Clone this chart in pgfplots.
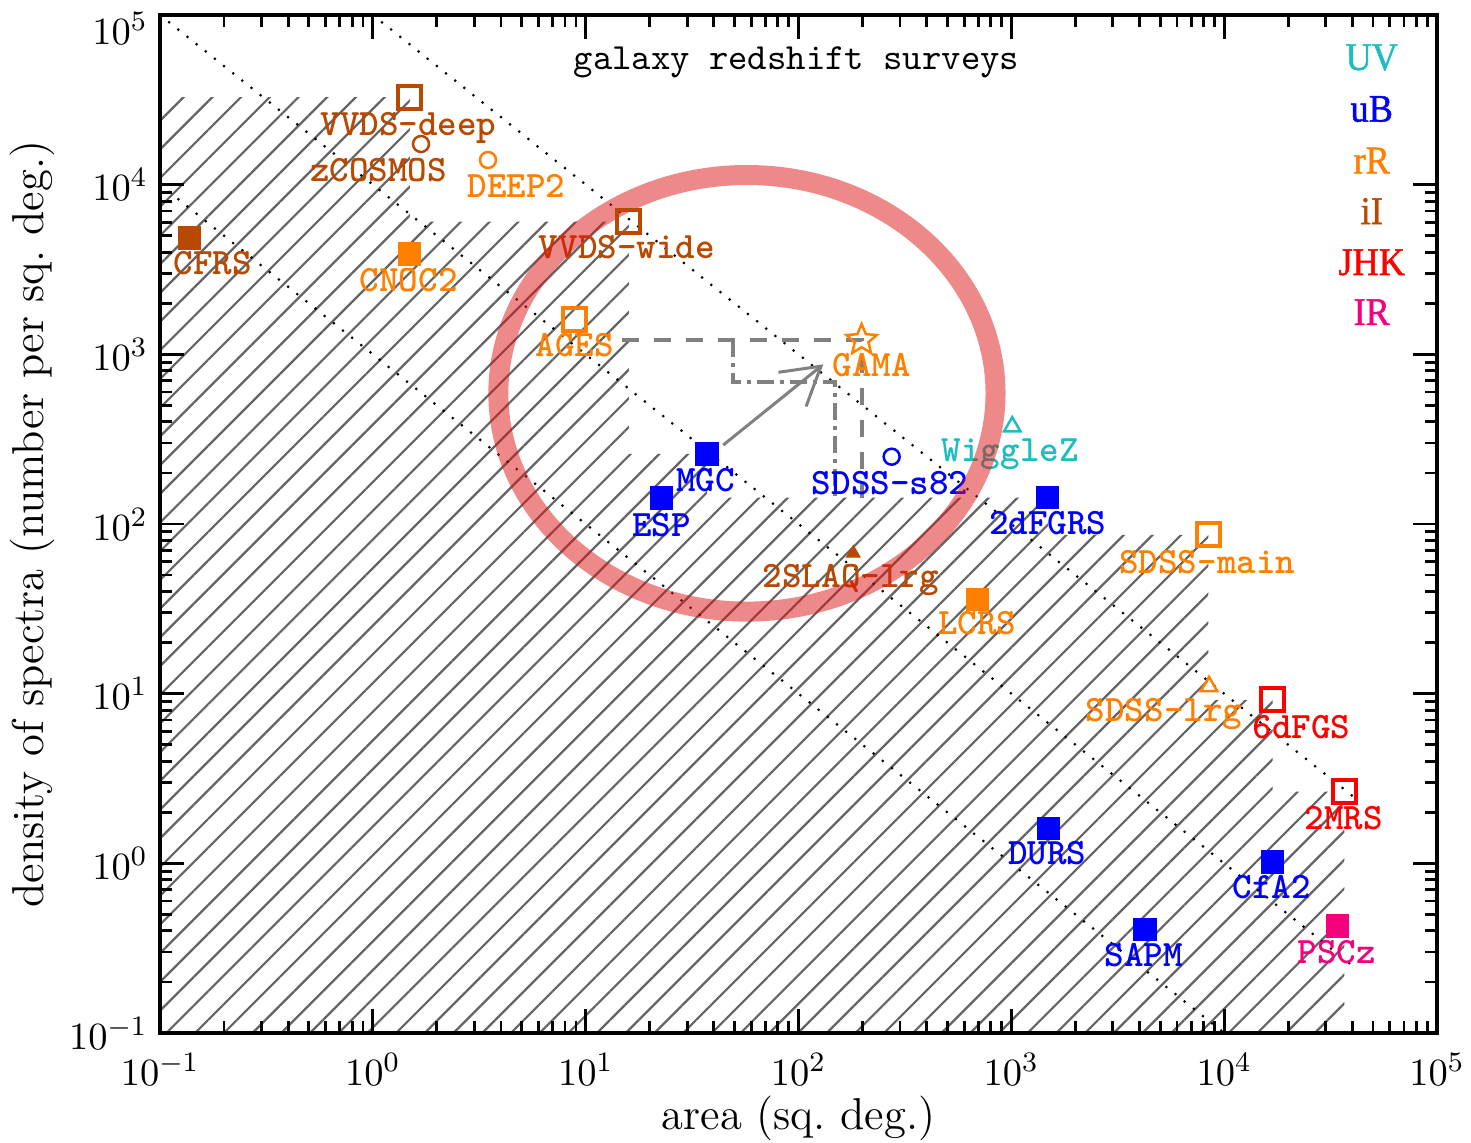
\documentclass[border=0pt]{standalone}
\usepackage{graphicx}
\usepackage{fontspec}
\usepackage{pgfplots}
\pgfplotsset{compat=1.18}
\usetikzlibrary{patterns.meta,arrows.meta}

\newfontfamily\bandfont[FakeBold=1.3]{Liberation Serif}

% colours of the wavelength bands
\definecolor{cUV}{RGB}{30,190,190}
\definecolor{cuB}{RGB}{0,0,255}
\definecolor{crR}{RGB}{255,128,0}
\definecolor{ciI}{RGB}{185,72,0}
\definecolor{cJHK}{RGB}{255,0,0}
\definecolor{cIR}{RGB}{245,0,125}
\definecolor{hatchgray}{RGB}{100,100,100}
\definecolor{guide}{RGB}{128,128,128}
\definecolor{ring}{RGB}{221,20,20}

% open five-pointed star
\pgfdeclareplotmark{ostar}{%
  \pgfpathmoveto{\pgfpointpolar{90}{\pgfplotmarksize}}%
  \pgfpathlineto{\pgfpointpolar{126}{0.45\pgfplotmarksize}}%
  \pgfpathlineto{\pgfpointpolar{162}{\pgfplotmarksize}}%
  \pgfpathlineto{\pgfpointpolar{198}{0.45\pgfplotmarksize}}%
  \pgfpathlineto{\pgfpointpolar{234}{\pgfplotmarksize}}%
  \pgfpathlineto{\pgfpointpolar{270}{0.45\pgfplotmarksize}}%
  \pgfpathlineto{\pgfpointpolar{306}{\pgfplotmarksize}}%
  \pgfpathlineto{\pgfpointpolar{342}{0.45\pgfplotmarksize}}%
  \pgfpathlineto{\pgfpointpolar{18}{\pgfplotmarksize}}%
  \pgfpathlineto{\pgfpointpolar{54}{0.45\pgfplotmarksize}}%
  \pgfpathclose
  \pgfusepathqstroke
}

\newcommand{\tallb}[1]{\scalebox{1}[1.08]{#1}}

\tikzset{
  lab/.style={font=\ttfamily\bfseries\addfontfeature{FakeBold=0.8}\fontsize{10.6}{12}\selectfont, anchor=base, inner sep=0pt},
  band/.style={font=\bandfont\fontsize{10.3}{11}\selectfont, anchor=base, inner sep=0pt},
}
\pgfplotsset{
  fsq/.style={only marks, mark=square*, mark size=1.1mm, color=#1},
  osq/.style={only marks, mark=square, mark size=1.15mm, color=#1, mark options={line width=0.4mm}},
  ocirc/.style={only marks, mark=o, mark size=0.8mm, color=#1, mark options={line width=0.25mm}},
  otri/.style={only marks, mark=triangle, mark size=0.95mm, color=#1, mark options={line width=0.25mm}},
}

\begin{document}
\begin{tikzpicture}
\begin{axis}[
  width=127.7mm, height=101.8mm, scale only axis,
  xmode=log, ymode=log,
  xmin=0.1, xmax=1e5, ymin=0.1, ymax=1e5,
  xtick={0.1,1,10,100,1000,10000,100000},
  ytick={0.1,1,10,100,1000,10000},
  extra y ticks={100000},
  extra y tick style={yticklabel style={yshift=-1.3mm}},
  tick align=inside,
  major tick length=2.4mm, minor tick length=1.2mm,
  every tick/.style={black, line width=0.8pt},
  axis line style={line width=1.2pt},
  axis on top,
  tick label style={font=\fontsize{11}{12}\selectfont},
  xticklabel style={yshift=-0.8mm},
  xlabel={area (sq.\ deg.)},
  ylabel={density of spectra (number per sq.\ deg.)},
  label style={font=\fontsize{12.7}{14}\selectfont},
  x label style={at={(axis description cs:0.5,0)}, anchor=center, yshift=-8.5mm},
  y label style={at={(axis description cs:-0.1002,0.5)}, anchor=center},
]
\coordinate (SW) at (rel axis cs:0,0);
\coordinate (NE) at (rel axis cs:1,1);

% region already covered by completed surveys
\addplot[draw=none, pattern={Lines[angle=45,distance=2.03mm,line width=0.22mm]}, pattern color=hatchgray]
  coordinates {(0.1,0.1) (0.1,32860) (1.495,32860) (1.495,6050) (15.98,6050) (15.98,258.6)
    (37.15,258.6) (37.15,143) (1483,143) (1483,86.2) (8425,86.2) (8425,9.18)
    (16900,9.18) (16900,2.645) (36690,2.645) (36690,0.1)} -- cycle;

% lines of constant total number of spectra (1e3, 1e4, 1e5), up to the full sky
\addplot[black, line width=0.3mm, line cap=round, dash pattern=on 0pt off 1.17mm]
  coordinates {(0.1,10000) (10000,0.1)};
\addplot[black, line width=0.3mm, line cap=round, dash pattern=on 0pt off 1.17mm]
  coordinates {(0.1,100000) (41253,0.2424)};
\addplot[black, line width=0.3mm, line cap=round, dash pattern=on 0pt off 1.17mm]
  coordinates {(1,100000) (41253,2.424)};

% extension of the covered region by GAMA
\addplot[guide, line width=0.4mm, dash pattern=on 1.7mm off 1.5mm]
  coordinates {(14.8,1215) (198,1215) (198,143)};
\addplot[guide, line width=0.4mm, dash pattern=on 1.7mm off 0.6mm on 0.4mm off 0.6mm]
  coordinates {(49.3,1215) (49.3,690) (148.5,690) (148.5,143)};
\addplot[guide, line width=0.3mm, -{Straight Barb[length=3.7mm,width=4.4mm]}]
  coordinates {(44.3,292) (130.8,873)};

% surveys
\addplot[fsq=ciI] coordinates {(0.138,4850)};
\addplot[osq=ciI] coordinates {(1.495,32860) (15.98,6050)};
\addplot[ocirc=ciI] coordinates {(1.684,17370)};
\addplot[only marks, mark=triangle*, mark size=0.75mm, color=ciI] coordinates {(181,67.2)};
\addplot[ocirc=crR] coordinates {(3.476,13980)};
\addplot[fsq=crR] coordinates {(1.49,3903) (695,36.0)};
\addplot[osq=crR] coordinates {(8.91,1609) (8425,86.2)};
\addplot[otri=crR] coordinates {(8490,11.04)};
\addplot[only marks, mark=ostar, mark size=1.6mm, color=crR, mark options={line width=0.25mm}] coordinates {(198,1215)};
\addplot[fsq=cuB] coordinates {(37.15,258.6) (22.75,142.3) (1483,143) (1492,1.61) (16900,1.02) (4246,0.408)};
\addplot[ocirc=cuB] coordinates {(274,249.3)};
\addplot[otri=cUV] coordinates {(1010,375)};
\addplot[osq=cJHK] coordinates {(16900,9.18) (36690,2.645)};
\addplot[fsq=cIR] coordinates {(34010,0.427)};

% survey names
\node[lab,text=ciI,xshift=2.3mm,yshift=-3.7mm] at (axis cs:0.138,4850) {CFRS};
\node[lab,text=ciI,xshift=-0.15mm,yshift=-3.8mm] at (axis cs:1.495,32860) {VVDS–deep};
\node[lab,text=ciI,xshift=-4.25mm,yshift=-3.8mm] at (axis cs:1.684,17370) {zCOSMOS};
\node[lab,text=crR,xshift=2.85mm,yshift=-3.8mm] at (axis cs:3.476,13980) {DEEP2};
\node[lab,text=crR,xshift=-0.1mm,yshift=-3.7mm] at (axis cs:1.49,3903) {CNOC2};
\node[lab,text=ciI,xshift=-0.2mm,yshift=-3.65mm] at (axis cs:15.98,6050) {VVDS–wide};
\node[lab,text=crR,xshift=0mm,yshift=-3.7mm] at (axis cs:8.91,1609) {AGES};
\node[lab,text=crR,xshift=1.0mm,yshift=-3.7mm] at (axis cs:198,1215) {GAMA};
\node[lab,text=cuB,xshift=-0.15mm,yshift=-3.75mm] at (axis cs:37.15,258.6) {MGC};
\node[lab,text=cuB,xshift=0mm,yshift=-3.85mm] at (axis cs:22.75,142.3) {ESP};
\node[lab,text=cuB,xshift=-0.15mm,yshift=-3.83mm] at (axis cs:274,249.3) {SDSS–s82};
\node[lab,text=cUV,xshift=-0.2mm,yshift=-3.47mm] at (axis cs:1010,375) {WiggleZ};
\node[lab,text=cuB,xshift=0mm,yshift=-3.73mm] at (axis cs:1483,143) {2dFGRS};
\node[lab,text=ciI,xshift=-0.25mm,yshift=-3.47mm] at (axis cs:181,67.2) {2SLAQ–lrg};
\node[lab,text=crR,xshift=-0.05mm,yshift=-3.57mm] at (axis cs:695,36.0) {LCRS};
\node[lab,text=crR,xshift=-0.1mm,yshift=-3.85mm] at (axis cs:8425,86.2) {SDSS–main};
\node[lab,text=crR,xshift=-4.5mm,yshift=-3.53mm] at (axis cs:8490,11.04) {SDSS–lrg};
\node[lab,text=cJHK,xshift=2.87mm,yshift=-3.83mm] at (axis cs:16900,9.18) {6dFGS};
\node[lab,text=cJHK,xshift=-0.06mm,yshift=-3.83mm] at (axis cs:36690,2.645) {2MRS};
\node[lab,text=cuB,xshift=-0.1mm,yshift=-3.67mm] at (axis cs:1492,1.61) {DURS};
\node[lab,text=cuB,xshift=-0.1mm,yshift=-3.66mm] at (axis cs:16900,1.02) {CfA2};
\node[lab,text=cuB,xshift=-0.1mm,yshift=-3.74mm] at (axis cs:4246,0.408) {SAPM};
\node[lab,text=cIR,xshift=-0.06mm,yshift=-3.73mm] at (axis cs:34010,0.427) {PSCz};

% title and band key
\node[font=\ttfamily\fontsize{10.5}{12}\selectfont, anchor=base, inner sep=0pt]
  at (axis description cs:0.4984,0.946) {galaxy redshift surveys};
\node[band,text=cUV]  at (axis description cs:0.9489,0.9460) {\tallb{UV}};
\node[band,text=cuB]  at (axis description cs:0.9489,0.8952) {\tallb{uB}};
\node[band,text=crR]  at (axis description cs:0.9489,0.8445) {\tallb{rR}};
\node[band,text=ciI]  at (axis description cs:0.9489,0.7947) {\tallb{iI}};
\node[band,text=cJHK] at (axis description cs:0.9489,0.7446) {\tallb{JHK}};
\node[band,text=cIR]  at (axis description cs:0.9489,0.6955) {\tallb{IR}};

% highlight ring
\draw[ring, opacity=0.5, line width=2mm] (axis cs:57.25,589.3) ellipse [x radius=24.86mm, y radius=21.83mm];
\end{axis}
\pgfresetboundingbox
\path[use as bounding box] ([shift={(-16mm,-10.9mm)}]SW) rectangle ([shift={(3.4mm,1.5mm)}]NE);
\end{tikzpicture}
\end{document}
